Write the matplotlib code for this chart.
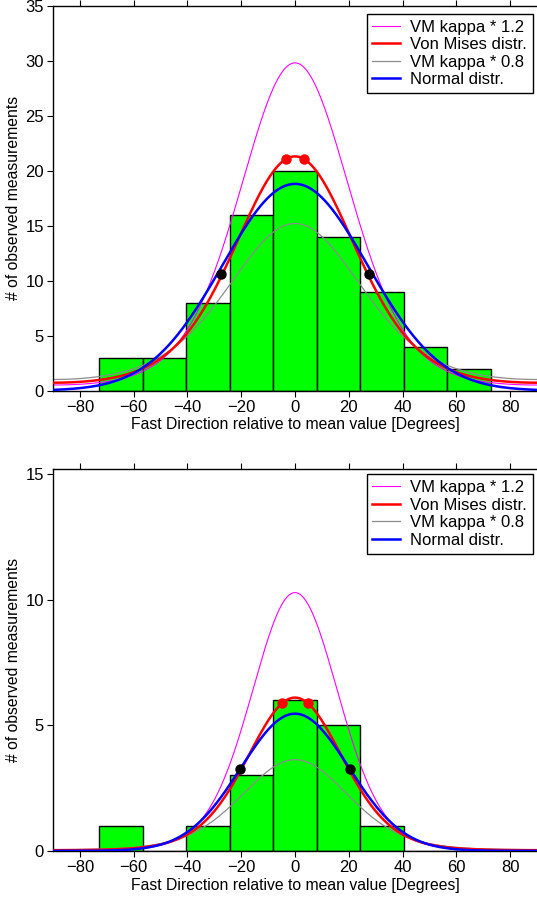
import numpy as np
import matplotlib
matplotlib.use("Agg")
import matplotlib.pyplot as plt

plt.rcParams.update(
    {
        "font.family": ["Liberation Sans", "DejaVu Sans"],
        "font.size": 11,
        "axes.linewidth": 1.0,
    }
)

# ---- data ----
bin_centers = [-64.8, -48.6, -32.4, -16.2, 0.0, 16.2, 32.4, 48.6, 64.8]
bin_width = 16.2

counts_top = [3, 3, 8, 16, 20, 14, 9, 4, 2]
counts_bottom = [1, 0, 1, 3, 6, 5, 1, 0, 0]

# von Mises (axial) curves: peak height and kappa
vm_peak_top = 21.3
vm_kappa_top = 1.69
vm12_peak_top = 29.8
vm08_peak_top = 15.2
norm_peak_top = 18.8
norm_sigma_top = 27.0

vm_peak_bottom = 6.1
vm_kappa_bottom = 2.7
vm12_peak_bottom = 10.28
vm08_peak_bottom = 3.63
norm_peak_bottom = 5.46
norm_sigma_bottom = 20.1

red_dots_top_x = [-3.2, 3.2]
red_dots_top_y = [21.1, 21.1]
black_dots_top_x = [-27.5, 27.5]
black_dots_top_y = [10.6, 10.6]

red_dots_bottom_x = [-5.0, 5.0]
red_dots_bottom_y = [5.87, 5.87]
black_dots_bottom_x = [-20.5, 20.5]
black_dots_bottom_y = [3.25, 3.25]

ylim_top = 35
ylim_bottom = 15.2
yticks_top = [0, 5, 10, 15, 20, 25, 30, 35]
yticks_bottom = [0, 5, 10, 15]
xticks = [-80, -60, -40, -20, 0, 20, 40, 60, 80]


def von_mises(x, peak, kappa):
    return peak * np.exp(kappa * (np.cos(np.deg2rad(2 * x)) - 1))


def normal(x, peak, sigma):
    return peak * np.exp(-(x**2) / (2 * sigma**2))


def draw_panel(ax, counts, vm_peak, kappa, vm12_peak, vm08_peak,
               n_peak, n_sigma, rdx, rdy, bdx, bdy, ymax, yticks, leg_y):
    ax.bar(bin_centers, counts, width=bin_width, color="#00ff00",
           edgecolor="black", linewidth=1.0, zorder=1)

    x = np.linspace(-90, 90, 721)
    ax.plot(x, von_mises(x, vm12_peak, kappa * 1.2), color="magenta",
            lw=0.8, label="VM kappa * 1.2", zorder=2)
    ax.plot(x, von_mises(x, vm_peak, kappa), color="red",
            lw=1.8, label="Von Mises distr.", zorder=3)
    ax.plot(x, von_mises(x, vm08_peak, kappa * 0.8), color="#8c8c8c",
            lw=0.9, label="VM kappa * 0.8", zorder=2)
    ax.plot(x, normal(x, n_peak, n_sigma), color="blue",
            lw=1.8, label="Normal distr.", zorder=3)

    ax.plot(rdx, rdy, "o", color="red", ms=6.5, zorder=4)
    ax.plot(bdx, bdy, "o", color="black", ms=6.5, zorder=4)

    ax.set_xlim(-90, 90)
    ax.set_ylim(0, ymax)
    ax.set_xticks(xticks)
    ax.set_yticks(yticks)
    ax.tick_params(axis="both", direction="out", length=4, labelsize=12,
                   top=True, right=False, pad=2.5)
    ax.spines["right"].set_visible(False)

    ax.set_xlabel("Fast Direction relative to mean value [Degrees]",
                  fontsize=11.3, labelpad=2)
    ax.set_ylabel("# of observed measurements", fontsize=11.3, labelpad=3)

    leg = ax.legend(loc="upper right", fontsize=12, fancybox=False,
                    framealpha=1, edgecolor="black", handlelength=1.65,
                    labelspacing=0.15, borderpad=0.35, borderaxespad=0,
                    handletextpad=0.6,
                    bbox_to_anchor=(1 - 4.5 / 484, leg_y))
    leg.get_frame().set_linewidth(1.0)


fig = plt.figure(figsize=(5.37, 9.0), dpi=100)
ax1 = fig.add_axes([0.0987, 0.5659, 0.9013, 0.4278])
ax2 = fig.add_axes([0.0987, 0.0546, 0.9013, 0.4243])

draw_panel(ax1, counts_top, vm_peak_top, vm_kappa_top, vm12_peak_top,
           vm08_peak_top, norm_peak_top, norm_sigma_top,
           red_dots_top_x, red_dots_top_y, black_dots_top_x, black_dots_top_y,
           ylim_top, yticks_top, 1 - 8 / 385)
draw_panel(ax2, counts_bottom, vm_peak_bottom, vm_kappa_bottom,
           vm12_peak_bottom, vm08_peak_bottom, norm_peak_bottom,
           norm_sigma_bottom, red_dots_bottom_x, red_dots_bottom_y,
           black_dots_bottom_x, black_dots_bottom_y,
           ylim_bottom, yticks_bottom, 1 - 5.5 / 382)

fig.savefig("out.png", dpi=100)
